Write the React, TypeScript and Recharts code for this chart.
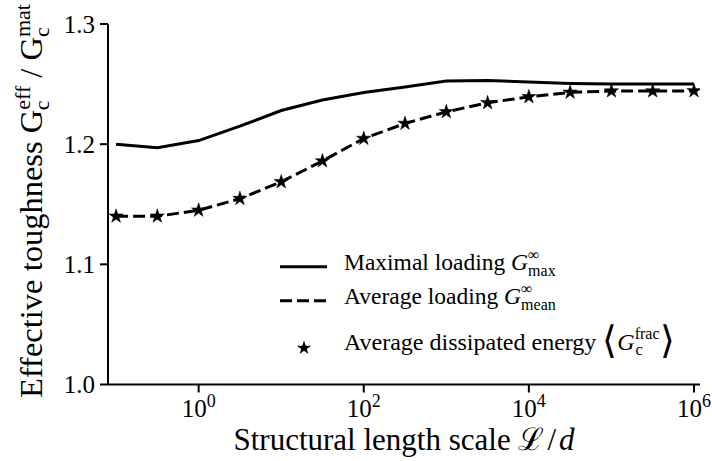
import React from 'react';
import { LineChart, Line, XAxis, YAxis, Customized } from 'recharts';

const FONT = 'Liberation Serif';

// Structural length scale L/d (log-spaced samples, half a decade apart)
const lengthScale = [0.1, 0.316, 1, 3.16, 10, 31.6, 100, 316, 1000, 3162, 10000, 31623, 100000, 316228, 1000000];
// Maximal loading G_max
const maximalLoading = [1.2, 1.197, 1.203, 1.215, 1.228, 1.2367, 1.243, 1.2475, 1.2525, 1.253, 1.2517, 1.2505, 1.25, 1.25, 1.25];
// Average loading G_mean
const averageLoading = [1.14, 1.14, 1.145, 1.1547, 1.1686, 1.186, 1.2047, 1.2172, 1.2269, 1.2344, 1.2394, 1.2431, 1.2442, 1.2442, 1.2443];
// Average dissipated energy <G_c^frac>
const dissipatedEnergy = [1.14, 1.14, 1.145, 1.1547, 1.1686, 1.186, 1.2047, 1.2172, 1.2269, 1.2344, 1.2394, 1.2431, 1.2442, 1.2442, 1.2443];

const yTicks = [1.0, 1.1, 1.2, 1.3];
const xTicks = [1, 100, 10000, 1000000];
const xTickExponents = ['0', '2', '4', '6'];

const X_DOMAIN: [number, number] = [0.0798, 1.183e6];
const Y_DOMAIN: [number, number] = [1.0, 1.3];

const data = lengthScale.map((x, i) => ({
  x,
  max: maximalLoading[i],
  mean: averageLoading[i],
  frac: dissipatedEnergy[i],
}));

function starPoints(cx: number, cy: number, R: number) {
  const pts: string[] = [];
  for (let k = 0; k < 10; k++) {
    const a = (-90 + k * 36) * Math.PI / 180;
    const r = k % 2 === 0 ? R : R * 0.382;
    pts.push(`${(cx + r * Math.cos(a)).toFixed(2)},${(cy + r * Math.sin(a)).toFixed(2)}`);
  }
  return pts.join(' ');
}

const StarDot = (props: any) => {
  const { cx, cy, index } = props;
  if (cx == null || cy == null) return <g key={`s-${index}`} />;
  return <polygon key={`s-${index}`} points={starPoints(cx, cy, 7.5)} fill="#000" stroke="#000" strokeWidth={0.5} />;
};

const XTick = (props: any) => {
  const { x, y, payload } = props;
  const idx = xTicks.indexOf(payload.value);
  const exp = idx >= 0 ? xTickExponents[idx] : '';
  return (
    <text x={x} y={y + 22.5} textAnchor="middle" fontFamily={FONT} fontSize={25} fill="#000">
      <tspan>10</tspan>
      <tspan dy={-10} fontSize={18}>{exp}</tspan>
    </text>
  );
};

const YTick = (props: any) => {
  const { x, y, payload } = props;
  return (
    <text x={x} y={y + 8.5} textAnchor="end" fontFamily={FONT} fontSize={25} fill="#000">
      {Number(payload.value).toFixed(1)}
    </text>
  );
};

const Overlay = () => {
  const lx1 = 280;
  const lx2 = 327;
  const tx = 344;
  return (
    <g>
      {/* axis labels */}
      <text x={404} y={450} textAnchor="middle" fontFamily={FONT} fontSize={31} fill="#000">
        Structural length scale <tspan>ℒ</tspan><tspan dx={3}>/</tspan><tspan dx={3} fontStyle="italic">d</tspan>
      </text>
      <text
        x={42}
        y={201}
        transform="rotate(-90, 42, 201)"
        textAnchor="middle"
        fontFamily={FONT}
        fontSize={32.5}
        fill="#000"
      >
        Effective toughness G
        <tspan dy={-12} fontSize={22}>eff</tspan>
        <tspan dx={-24.4} dy={19} fontSize={22}>c</tspan>
        <tspan dx={14.6} dy={-7}> / G</tspan>
        <tspan dy={-12} fontSize={22}>mat</tspan>
        <tspan dx={-33} dy={19} fontSize={22}>c</tspan>
      </text>

      {/* legend */}
      <line x1={lx1} x2={lx2} y1={266.7} y2={266.7} stroke="#000" strokeWidth={3} />
      <line x1={lx1} x2={lx2} y1={300.7} y2={300.7} stroke="#000" strokeWidth={3} strokeDasharray="12 5" />
      <polygon points={starPoints(304, 348, 7.5)} fill="#000" />
      <text x={tx} y={270} fontFamily={FONT} fontSize={23.5} fill="#000">
        Maximal loading <tspan fontStyle="italic">G</tspan>
        <tspan dy={-10} fontSize={16}>∞</tspan>
        <tspan dx={-11.4} dy={16} fontSize={16}>max</tspan>
      </text>
      <text x={tx} y={304} fontFamily={FONT} fontSize={23.5} fill="#000">
        Average loading <tspan fontStyle="italic">G</tspan>
        <tspan dy={-10} fontSize={16}>∞</tspan>
        <tspan dx={-11.4} dy={16} fontSize={16}>mean</tspan>
      </text>
      <text x={tx} y={350} fontFamily={FONT} fontSize={24} fill="#000">
        Average dissipated energy <tspan dy={3} fontSize={38}>⟨</tspan>
        <tspan dy={-3} fontStyle="italic">G</tspan>
        <tspan dy={-11} fontSize={16}>frac</tspan>
        <tspan dx={-24} dy={16} fontSize={16}>c</tspan>
        <tspan dx={17} dy={-2} fontSize={38}>⟩</tspan>
      </text>
    </g>
  );
};

export default function App() {
  return (
    <div style={{ position: 'absolute', left: 0, top: 0, width: 712, height: 461, background: '#fff' }}>
      <LineChart width={712} height={461} data={data} margin={{ top: 24, right: 12, bottom: 16.5, left: 0 }}>
        <XAxis
          dataKey="x"
          type="number"
          scale="log"
          domain={X_DOMAIN}
          allowDataOverflow
          ticks={xTicks}
          interval={0}
          height={60}
          tickSize={8}
          tickMargin={2}
          axisLine={{ stroke: '#000', strokeWidth: 2 }}
          tickLine={{ stroke: '#000', strokeWidth: 2 }}
          tick={<XTick />}
        />
        <XAxis
          xAxisId="top"
          dataKey="x"
          type="number"
          scale="log"
          domain={X_DOMAIN}
          allowDataOverflow
          orientation="top"
          height={0}
          tick={false}
          tickLine={false}
          axisLine={{ stroke: '#000', strokeWidth: 2 }}
        />
        <YAxis
          type="number"
          domain={Y_DOMAIN}
          allowDataOverflow
          ticks={yTicks}
          interval={0}
          width={108}
          tickSize={8}
          tickMargin={5}
          axisLine={{ stroke: '#000', strokeWidth: 2 }}
          tickLine={{ stroke: '#000', strokeWidth: 2 }}
          tick={<YTick />}
        />
        <YAxis
          yAxisId="right"
          orientation="right"
          type="number"
          domain={Y_DOMAIN}
          width={0}
          tick={false}
          tickLine={false}
          axisLine={{ stroke: '#000', strokeWidth: 2 }}
        />
        <Line
          type="linear"
          dataKey="max"
          stroke="#000"
          strokeWidth={3}
          dot={false}
          activeDot={false}
          isAnimationActive={false}
        />
        <Line
          type="linear"
          dataKey="mean"
          stroke="#000"
          strokeWidth={3}
          strokeDasharray="12 5"
          dot={false}
          activeDot={false}
          isAnimationActive={false}
        />
        <Line
          type="linear"
          dataKey="frac"
          stroke="none"
          dot={StarDot}
          activeDot={false}
          isAnimationActive={false}
        />
        <Customized component={Overlay} />
      </LineChart>
    </div>
  );
}
